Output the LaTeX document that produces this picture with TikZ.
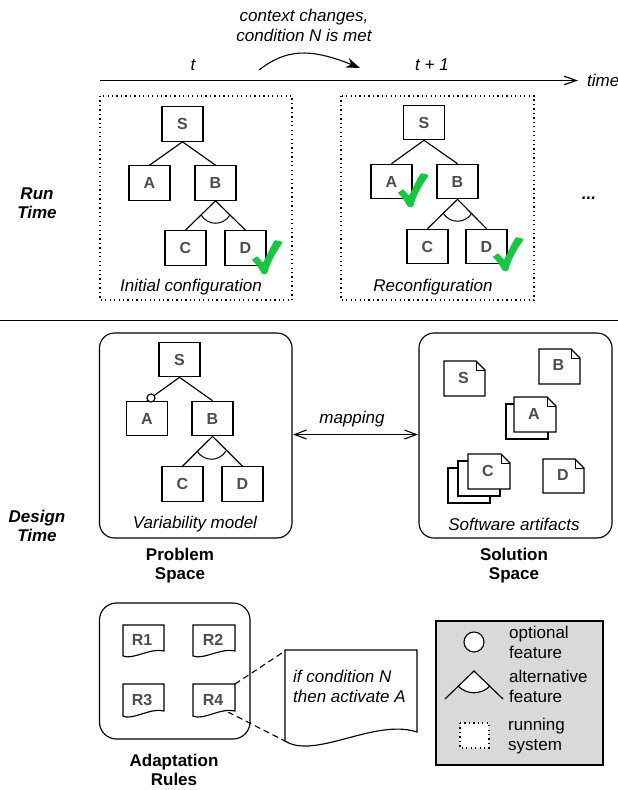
\documentclass[tikz,border=0pt]{standalone}
\usepackage{fontspec}
\setmainfont{Liberation Sans}
\usetikzlibrary{arrows.meta,calc}
\definecolor{lbl}{HTML}{4D4D4D}
\definecolor{chk}{HTML}{14C83F}
\definecolor{leg}{HTML}{D9D9D9}
\tikzset{
  x=1pt,y=-1pt,
  ln/.style={line width=1.15pt,draw=black},
  fbox/.style={ln,minimum width=41pt,minimum height=34.5pt,inner sep=0pt,font=\fontsize{16}{16}\selectfont\bfseries,text=lbl,fill=white},
  capt/.style={font=\fontsize{17}{17}\selectfont\itshape,inner sep=0pt},
  capm/.style={font=\fontsize{17}{20}\selectfont\itshape,inner sep=0pt},
  side/.style={font=\fontsize{17}{19}\selectfont\bfseries\itshape,align=center,inner sep=0pt},
  head/.style={font=\fontsize{17}{19}\selectfont\bfseries,align=center,inner sep=0pt},
  legt/.style={font=\fontsize{17}{20.5}\selectfont,align=left,inner sep=0pt,anchor=west},
  dot/.style={line width=1.25pt,dash pattern=on 1.25pt off 3.2pt,draw=black},
  rbox/.style={ln,rounded corners=15pt},
  nlab/.style={font=\fontsize{16}{16}\selectfont\bfseries,text=lbl,inner sep=0pt},
  conn/.style={line width=1.15pt},
  arcl/.style={line width=1pt},
}
\newcommand{\checkm}[2]{\fill[chk,shift={(#1,#2)},rounded corners=1pt] (0,0) -- (5,-4) -- (11,3) .. controls (15,-5) and (18,-12) .. (23,-20) -- (31,-18) .. controls (24,-8) and (18,2) .. (15,14) -- (10,14) .. controls (7,8) and (4,4) .. (0,0) -- cycle;}
\newcommand{\notep}[4]{\filldraw[ln,fill=white] (#1,#2) -- ({#3-9},#2) -- (#3,{#2+9}) -- (#3,#4) -- (#1,#4) -- cycle;
  \draw[line width=.8pt] ({#3-9},#2) -- ({#3-9},{#2+9}) -- (#3,{#2+9});}
\newcommand{\docp}[5]{\filldraw[#5,fill=white] (#1,#2) -- (#3,#2) -- (#3,#4) .. controls ({#3-0.32*(#3-#1)},{#4-0.14*(#4-#2)}) and ({#1+0.23*(#3-#1)},{#4+0.36*(#4-#2)}) .. (#1,{#4+0.19*(#4-#2)}) -- cycle;}
\begin{document}
\begin{tikzpicture}
\useasboundingbox (0,0) rectangle (618,790);

% timeline
\coordinate (tl0) at (100,80.5);
\coordinate (tl1) at (578,80.5);
\draw[line width=1.2pt,-{Straight Barb[length=12pt,width=8.5pt]}] (tl0) -- (tl1);
\node[capt,anchor=west] (time) at (587,80.5) {time};
\node[capt] (t0) at (193,65) {t};
\node[capt] (t1) at (432,65) {t + 1};
\node[capm,align=center] (ctx) at (304,25) {context changes,\\condition N is met};
\coordinate (ca0) at (259,70);
\coordinate (ca1) at (360,68);
\draw[line width=1.1pt,-{Stealth[length=14pt,width=10pt]}] (ca0) .. controls (285,50) and (308,47) .. (ca1);

% run-time boxes
\draw[dot] (100,96) rectangle (292,300);
\draw[dot] (341,96) rectangle (534,300);
\node[capt] (cap1) at (191,287) {Initial configuration};
\node[capt] (cap2) at (433,287) {Reconfiguration};

\node[side] (run) at (37,203) {Run\\Time};
\node[side] (dots) at (589,198) {...};
\draw[line width=1.15pt] (0,320.5) -- (618,320.5);
\node[side] (des) at (37,526) {Design\\Time};

% tree 1
\node[fbox] (s1) at (182.5,124) {S};
\node[fbox] (a1) at (149.5,183) {A};
\node[fbox] (b1) at (215.5,183) {B};
\node[fbox] (c1) at (185.5,248) {C};
\node[fbox] (d1) at (245.5,248) {D};
\draw[conn] (s1.south) -- (a1.north);
\draw[conn] (s1.south) -- (b1.north);
\draw[conn] (b1.south) -- (c1.north);
\draw[conn] (b1.south) -- (d1.north);
\draw[arcl] (201,215) .. controls (208,226) and (223,226) .. (230,215);
\checkm{252}{260}

% tree 2
\node[fbox] (s2) at (424,122.5) {S};
\node[fbox] (a2) at (391.5,181.5) {A};
\node[fbox] (b2) at (457.5,181.5) {B};
\node[fbox] (c2) at (427.5,246.5) {C};
\node[fbox] (d2) at (486.5,246.5) {D};
\draw[conn] (s2.south) -- (a2.north);
\draw[conn] (s2.south) -- (b2.north);
\draw[conn] (b2.south) -- (c2.north);
\draw[conn] (b2.south) -- (d2.north);
\draw[arcl] (443,213) .. controls (450,224) and (465,224) .. (472,213);
\checkm{398}{193}
\checkm{493}{257}

% problem space
\draw[rbox] (99.5,333) rectangle (292,538);
\node[fbox] (s3) at (179.5,359.5) {S};
\node[fbox] (a3) at (147,418.5) {A};
\node[fbox] (b3) at (212.5,418.5) {B};
\node[fbox] (c3) at (182.5,484) {C};
\node[fbox] (d3) at (242.5,484) {D};
\draw[conn] (s3.south) -- (a3.north);
\draw[conn] (s3.south) -- (b3.north);
\draw[conn] (b3.south) -- (c3.north);
\draw[conn] (b3.south) -- (d3.north);
\draw[arcl] (197,451) .. controls (204,462) and (219,462) .. (226,451);
\node[circle,ln,fill=white,minimum size=8pt,inner sep=0pt] (opt) at (151,398) {};
\node[capt] (vm) at (195,524) {Variability model};
\node[head] (ps) at (180,565.5) {Problem\\Space};

% solution space
\draw[rbox] (419,333) rectangle (612,538);
\notep{444}{361}{485}{396}
\node[nlab] (ns) at (463.5,378) {S};
\notep{539}{349}{580}{384}
\node[nlab] (nb) at (558.5,365) {B};
\draw[ln,fill=white] (506,404) rectangle (548,439);
\notep{514}{397}{556}{432}
\node[nlab] (na) at (534,414) {A};
\draw[ln,fill=white] (448,468) rectangle (490,503);
\draw[ln,fill=white] (458,461) rectangle (500,496);
\notep{468}{454}{510}{489}
\node[nlab] (nc) at (488,471) {C};
\notep{543}{459}{584}{493}
\node[nlab] (nd) at (563,475) {D};
\node[capt] (sa) at (514,524) {Software artifacts};
\node[head] (sols) at (514,565.5) {Solution\\Space};

% mapping
\coordinate (m0) at (293,434.5);
\coordinate (m1) at (418,434.5);
\draw[line width=1.1pt,{Straight Barb[length=12pt,width=9pt]}-{Straight Barb[length=12pt,width=9pt]}] (m0) -- (m1);
\node[capt] (map) at (352,419) {mapping};

% adaptation rules
\draw[ln,rounded corners=17pt] (99.5,603) rectangle (250,739);
\docp{123}{625}{164}{651}{ln}
\node[nlab] (r1) at (142,640) {R1};
\docp{193}{625}{235}{651}{ln}
\node[nlab] (r2) at (213,640) {R2};
\docp{123}{684}{164}{711}{ln}
\node[nlab] (r3) at (142,700) {R3};
\docp{193}{684}{235}{711}{ln}
\node[nlab] (r4) at (213,700) {R4};
\node[head] (ar) at (174,769.5) {Adaptation\\Rules};
\draw[line width=1.1pt,dash pattern=on 6pt off 4pt] (235,684) -- (285,651);
\draw[line width=1.1pt,dash pattern=on 6pt off 4pt] (228,712) -- (285,741);
\filldraw[ln,fill=white] (285,650) -- (417,650) -- (417,732) .. controls (375,718) and (315,760) .. (285,741) -- cycle;
\node[capm,align=left,anchor=west] (rule) at (293,686.5) {if condition N\\then activate A};

% legend
\draw[line width=1.4pt,fill=leg] (436,621) rectangle (603,765);
\node[circle,ln,fill=white,minimum size=20pt,inner sep=0pt] (lopt) at (474,642) {};
\fill[white] (474,671) -- (458,686) .. controls (467,695) and (481,695) .. (490,686) -- cycle;
\draw[conn] (445,699) -- (474,671) -- (503,699);
\draw[conn] (458,686) .. controls (467,695) and (481,695) .. (490,686);
\draw[dot,fill=white] (460,723) rectangle (489,748);
\node[legt] (l1) at (509,642.5) {optional\\feature};
\node[legt] (l2) at (509,686.5) {alternative\\feature};
\node[legt] (l3) at (508,736) {running\\system};
\end{tikzpicture}
\end{document}
